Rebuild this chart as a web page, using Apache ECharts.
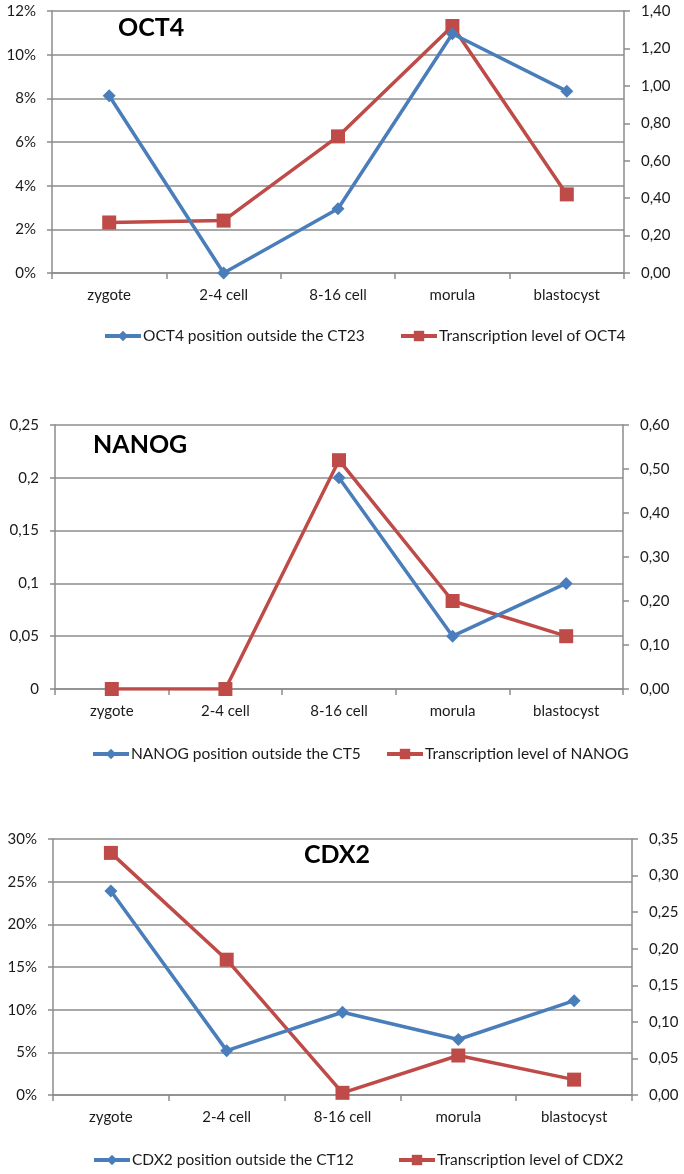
<!DOCTYPE html>
<html><head><meta charset="utf-8">
<script src="https://cdn.jsdelivr.net/npm/echarts@6/dist/echarts.min.js"></script>
<style>html,body{margin:0;padding:0;background:#fff}#c{width:684px;height:1174px}</style>
</head><body><div id="c"></div>
<script>
const categories = ['zygote', '2-4 cell', '8-16 cell', 'morula', 'blastocyst'];

const oct4Position = [8.12, 0, 2.94, 10.96, 8.33];          // %
const oct4Transcription = [0.27, 0.28, 0.73, 1.32, 0.42];

const nanogPosition = [null, null, 0.2, 0.05, 0.1];
const nanogTranscription = [0, 0, 0.52, 0.2, 0.12];

const cdx2Position = [23.9, 5.2, 9.7, 6.5, 11.05];           // %
const cdx2Transcription = [0.331, 0.185, 0.003, 0.054, 0.021];

const names = [
  ['OCT4 position outside the CT23', 'Transcription level of OCT4'],
  ['NANOG position outside the CT5', 'Transcription level of NANOG'],
  ['CDX2 position outside the CT12', 'Transcription level of CDX2']
];
const titles = ['OCT4', 'NANOG', 'CDX2'];

const BLUE = '#4A7EBB', RED = '#BE4B48', GRID = '#8C8C8C', FONT = 'Lato, "Open Sans", sans-serif';
const comma = (v, d) => (d == null ? String(Math.round(v * 100) / 100) : v.toFixed(d)).replace('.', ',');

const grids = [
  {left: 52, top: 11, width: 572, height: 262},
  {left: 55, top: 425, width: 568, height: 264},
  {left: 53, top: 839, width: 579, height: 256}
];
const leftAxes = [
  {min: 0, max: 12, interval: 2, fmt: v => v + '%'},
  {min: 0, max: 0.25, interval: 0.05, fmt: v => comma(v)},
  {min: 0, max: 30, interval: 5, fmt: v => v + '%'}
];
const rightAxes = [
  {min: 0, max: 1.4, interval: 0.2},
  {min: 0, max: 0.6, interval: 0.1},
  {min: 0, max: 0.35, interval: 0.05}
];
const posData = [oct4Position, nanogPosition, cdx2Position];
const trData = [oct4Transcription, nanogTranscription, cdx2Transcription];
const titlePos = [{left: 113, top: 10}, {left: 88, top: 427}, {left: 299, top: 837}];
const legendPos = [
  [{left: 98, top: 323}, {left: 394, top: 323}],
  [{left: 86, top: 741}, {left: 380, top: 741}],
  [{left: 87, top: 1147}, {left: 392, top: 1147}]
];

const axisLabelStyle = {color: '#1a1a1a', fontFamily: FONT, fontSize: 15};
const option = {
  animation: false,
  backgroundColor: '#fff',
  title: titles.map((t, i) => ({text: t, left: titlePos[i].left, top: titlePos[i].top,
    textStyle: {fontFamily: FONT, fontWeight: 'bold', fontSize: 25, color: '#000'}})),
  legend: [].concat(...names.map((n, i) => n.map((nm, j) => ({
    data: [nm], left: legendPos[i][j].left, top: legendPos[i][j].top, itemWidth: 36, itemHeight: 13,
    lineStyle: {width: 4},
    textStyle: {fontFamily: FONT, fontSize: 15.5, color: '#1a1a1a', padding: [0, 0, 0, -3]}
  })))),
  grid: grids.map(g => Object.assign({containLabel: false}, g)),
  xAxis: grids.map((g, i) => ({
    type: 'category', gridIndex: i, data: categories, boundaryGap: true,
    axisLine: {lineStyle: {color: GRID, width: 1.5}},
    axisTick: {show: true, length: 6, lineStyle: {color: GRID, width: 1.5}},
    axisLabel: Object.assign({margin: 15}, axisLabelStyle),
    splitLine: {show: false}
  })),
  yAxis: [].concat(...grids.map((g, i) => [
    {type: 'value', gridIndex: i, position: 'left', min: leftAxes[i].min, max: leftAxes[i].max, interval: leftAxes[i].interval,
      axisLine: {show: true, lineStyle: {color: GRID, width: 1.5}},
      axisTick: {show: true, length: 5, lineStyle: {color: GRID, width: 1.5}},
      axisLabel: Object.assign({margin: 16, formatter: leftAxes[i].fmt}, axisLabelStyle),
      splitLine: {show: true, lineStyle: {color: GRID, width: 1.5}}},
    {type: 'value', gridIndex: i, position: 'right', min: rightAxes[i].min, max: rightAxes[i].max, interval: rightAxes[i].interval,
      axisLine: {show: true, lineStyle: {color: GRID, width: 1.5}},
      axisTick: {show: true, length: 6, lineStyle: {color: GRID, width: 1.5}},
      axisLabel: Object.assign({margin: 17, formatter: v => comma(v, 2)}, axisLabelStyle),
      splitLine: {show: false}}
  ])),
  series: [].concat(...grids.map((g, i) => [
    {name: names[i][0], type: 'line', xAxisIndex: i, yAxisIndex: 2 * i, data: posData[i],
      symbol: 'diamond', symbolSize: 13, z: 3,
      lineStyle: {color: BLUE, width: 3.5}, itemStyle: {color: BLUE}},
    {name: names[i][1], type: 'line', xAxisIndex: i, yAxisIndex: 2 * i + 1, data: trData[i],
      symbol: 'rect', symbolSize: 14, z: 2,
      lineStyle: {color: RED, width: 3.5}, itemStyle: {color: RED}}
  ]))
};
const chart = echarts.init(document.getElementById('c'), null, {renderer: 'canvas'});
chart.setOption(option);
</script></body></html>
